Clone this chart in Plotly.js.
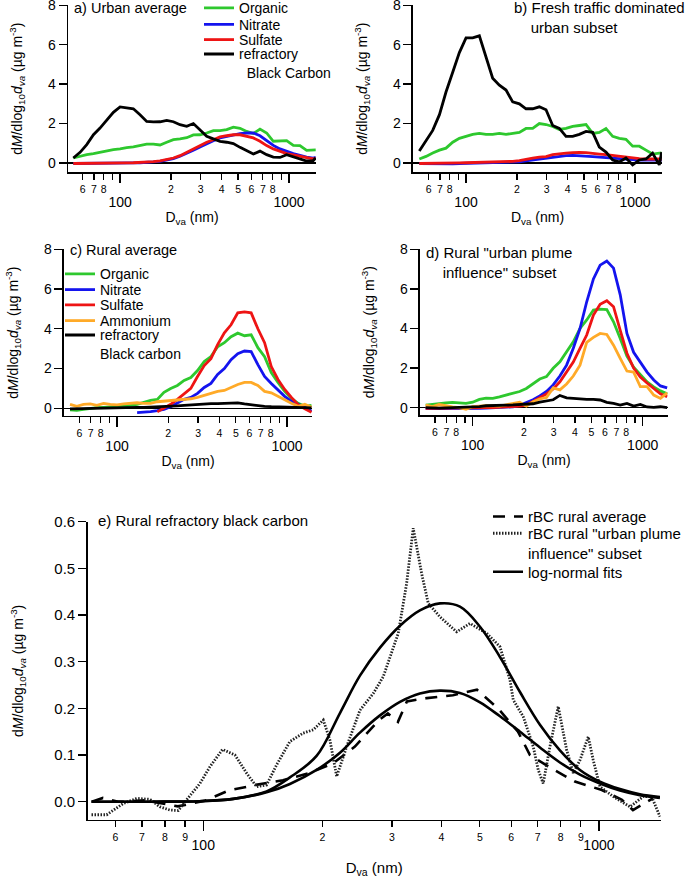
<!DOCTYPE html>
<html><head><meta charset="utf-8">
<script src="https://cdn.plot.ly/plotly-3.0.1.min.js"></script>
<style>html,body{margin:0;padding:0;background:#fff;}#chart{width:685px;height:878px;}</style>
</head><body><div id="chart"></div>
<script>
// ---------- data ----------
// vacuum aerodynamic diameter grid (nm) used for panels a-d
const dva = [52.9, 58.0, 63.5, 69.6, 76.1, 83.4, 91.3, 100, 109.5, 119.9, 131.3, 143.8, 157.5, 172.5, 188.9, 206.9, 226.5, 248.1, 271.7, 297.5, 325.8, 356.8, 390.7, 427.9, 468.6, 513.2, 562.0, 615.2, 673.7, 737.8, 807.9, 884.6, 968.8, 1061, 1162, 1272, 1393, 1440];

// a) Urban average
const a_organic = [0.25,0.34,0.42,0.47,0.54,0.64,0.68,0.71,0.78,0.81,0.88,0.95,0.95,0.91,1.05,1.18,1.22,1.28,1.42,1.43,1.52,1.64,1.64,1.69,1.82,1.76,1.60,1.49,1.72,1.52,1.10,1.10,1.13,0.89,0.88,0.64,0.64,0.66];
const a_nitrate = [-0.03,-0.03,-0.03,-0.02,-0.02,-0.01,-0.01,0,0,0,0.01,0.02,0.05,0.08,0.14,0.22,0.34,0.47,0.64,0.81,0.98,1.13,1.27,1.35,1.43,1.49,1.52,1.52,1.38,1.15,0.89,0.71,0.59,0.47,0.39,0.30,0.25,0.28];
const a_sulfate = [-0.03,-0.03,-0.03,-0.02,-0.02,-0.01,-0.01,0,0,0.01,0.02,0.03,0.07,0.10,0.17,0.25,0.37,0.54,0.71,0.89,1.05,1.18,1.32,1.38,1.43,1.43,1.35,1.27,1.10,0.88,0.71,0.59,0.47,0.41,0.34,0.30,0.20,0.25];
const a_rbc = [0.25,0.54,0.93,1.43,1.77,2.19,2.57,2.84,2.78,2.75,2.45,2.11,2.08,2.09,2.16,2.09,1.94,1.86,2.00,1.69,1.35,1.22,1.10,1.05,0.98,0.79,0.60,0.45,0.60,0.42,0.30,0.28,0.42,0.30,0.18,0.10,0.12,0.25];

// b) Fresh traffic dominated urban subset
const b_organic = [0.20,0.33,0.50,0.65,0.75,1.05,1.25,1.35,1.45,1.50,1.45,1.45,1.50,1.45,1.50,1.55,1.75,1.75,2.00,1.95,1.85,1.70,1.75,1.85,1.90,1.95,1.50,1.55,1.75,1.35,1.25,1.20,0.85,0.85,0.65,0.45,0.50,0.50];
const b_nitrate = [-0.03,-0.04,-0.05,-0.06,-0.06,-0.05,-0.03,-0.02,-0.01,0,0,0.01,0.02,0.02,0.04,0.06,0.10,0.15,0.20,0.24,0.30,0.34,0.37,0.38,0.37,0.35,0.32,0.30,0.27,0.24,0.20,0.17,0.15,0.14,0.14,0.13,0.14,0.14];
const b_sulfate = [-0.03,-0.03,-0.02,-0.02,-0.01,0,0,0.01,0.02,0.03,0.03,0.04,0.05,0.06,0.08,0.12,0.20,0.25,0.30,0.32,0.42,0.47,0.50,0.52,0.54,0.52,0.47,0.45,0.42,0.38,0.33,0.28,0.24,0.22,0.20,0.20,0.20,0.20];
const b_rbc = [0.60,1.10,1.65,2.45,3.60,4.60,5.60,6.35,6.35,6.45,5.40,4.30,3.95,3.70,3.10,3.00,2.75,2.75,2.85,2.70,1.90,1.75,1.35,1.35,1.45,1.60,1.55,0.80,0.55,0.15,0.05,0.25,-0.10,0.15,0.20,0.50,-0.10,0.55];

// c) Rural average
const c_organic = [-0.08,-0.10,-0.05,0,0.03,0.05,0.07,0.10,0.13,0.15,0.20,0.30,0.40,0.45,0.80,1.00,1.15,1.40,1.55,1.90,2.35,2.60,3.10,3.30,3.60,3.78,3.65,3.70,3.05,2.60,1.80,1.30,0.85,0.50,0.25,0.10,0.15,null];
const c_nitrate = [null,null,null,null,null,null,null,null,null,null,-0.22,-0.20,-0.17,-0.12,-0.05,0.08,0.25,0.45,0.55,0.75,1.05,1.25,1.70,2.00,2.45,2.75,2.88,2.85,2.20,1.60,1.25,0.95,0.60,0.35,0.20,0.05,-0.15,null];
const c_sulfate = [null,null,null,null,null,null,null,null,null,null,null,null,null,-0.18,0.00,0.20,0.45,0.75,1.00,1.60,2.15,2.50,3.20,3.80,4.20,4.80,4.85,4.80,4.00,3.30,2.10,1.45,0.95,0.55,0.18,-0.02,-0.20,null];
const c_ammonium = [0.20,0.10,0.20,0.22,0.15,0.25,0.20,0.17,0.22,0.25,0.28,0.25,0.25,0.33,0.36,0.40,0.42,0.44,0.48,0.55,0.65,0.75,0.85,0.90,1.05,1.20,1.30,1.30,1.15,0.85,0.78,0.60,0.40,0.25,0.10,0.20,0.05,null];
const c_rbc = [-0.03,-0.02,0,0.01,0.02,0.03,0.03,0.04,0.04,0.05,0.05,0.05,0.06,0.07,0.08,0.10,0.12,0.15,0.18,0.20,0.22,0.24,0.24,0.25,0.27,0.27,0.22,0.17,0.12,0.10,0.08,0.07,0.06,0.05,0.04,0.03,0.02,null];

// d) Rural "urban plume influence" subset
const d_organic = [0.13,0.18,0.22,0.25,0.27,0.25,0.22,0.28,0.42,0.48,0.47,0.55,0.63,0.72,0.82,0.97,1.20,1.45,1.57,1.99,2.32,2.83,3.33,4.00,4.43,4.93,4.98,4.95,4.34,3.50,2.60,2.05,1.65,1.30,1.05,0.85,0.70,null];
const d_nitrate = [-0.05,-0.05,-0.06,-0.06,-0.06,-0.05,-0.05,-0.04,-0.03,-0.02,-0.01,0,0.02,0.05,0.12,0.25,0.40,0.60,0.82,1.15,1.60,2.15,3.00,4.00,5.35,6.50,7.20,7.40,7.05,5.70,3.75,2.80,2.30,1.80,1.40,1.10,1.00,null];
const d_sulfate = [-0.03,-0.03,-0.03,-0.02,-0.02,-0.02,-0.01,-0.01,0,0,0.01,0.02,0.03,0.05,0.08,0.13,0.30,0.50,0.70,0.95,1.31,1.80,2.30,3.00,3.67,4.68,5.22,5.40,5.10,3.90,2.75,2.00,1.55,1.25,0.95,0.70,0.55,null];
const d_ammonium = [0.13,0.06,0.16,0.08,0.04,0.00,-0.08,0.05,0.08,0.10,0.09,0.08,0.15,0.22,0.28,0.08,0.30,0.44,0.52,1.00,0.90,1.20,1.60,2.15,3.30,3.55,3.75,3.70,3.16,2.49,1.85,1.80,1.06,1.06,0.64,0.47,0.75,null];
const d_rbc = [0,-0.02,-0.02,-0.01,0,0.02,0.03,0.05,0.06,0.10,0.10,0.12,0.13,0.14,0.16,0.18,0.20,0.28,0.33,0.40,0.62,0.50,0.47,0.44,0.42,0.42,0.39,0.27,0.22,0.13,0.22,0.08,0.17,0.04,0.02,0.05,0.00,null];

// e) Rural refractory black carbon
const e_avg_dva = [52.3,55.8,60.9,63.4,71.2,80.0,86.3,101,116.1,135.9,159,185,212.8,241.7,278,292.9,310.5,327.2,367.5,427.6,491.7,555.6,624.3,669.3,756.3,869.6,1017,1143,1219,1369];
const e_avg = [0,0.008,0,0,0.003,-0.005,-0.01,0.002,0.024,0.036,0.046,0.061,0.082,0.118,0.175,0.189,0.171,0.215,0.222,0.228,0.240,0.200,0.150,0.100,0.072,0.043,0.025,0.004,-0.018,0.007];
const e_plume_dva = [52.2,57.0,62.8,67.9,73.3,77.7,82.4,86.5,90.8,98.1,104,111.9,120.3,128.7,136.5,144.6,153.3,165.6,178.9,189.7,201.1,209,217.4,221.6,230.4,248.9,269,285.1,311.1,326.6,339.4,356.4,370.4,396.5,437,472.1,520.3,562.2,595.9,607.4,643.8,682.3,702.4,723.1,751.9,789,828.6,861.1,895.4,939.7,967.4,1006,1087,1198,1294,1359,1426];
const e_plume = [-0.028,-0.028,-0.004,0.007,0.005,-0.011,-0.018,-0.019,0.004,0.039,0.075,0.112,0.100,0.061,0.032,0.036,0.079,0.129,0.147,0.154,0.175,0.132,0.054,0.075,0.118,0.196,0.232,0.268,0.361,0.468,0.586,0.489,0.425,0.396,0.364,0.382,0.361,0.332,0.261,0.218,0.182,0.118,0.068,0.039,0.118,0.204,0.111,0.061,0.089,0.139,0.089,0.032,0.011,-0.011,0.011,0.011,-0.032];
const e_fit_dva = [52.2,73.3,98.1,119.1,144.6,165.6,193.4,221.6,248.9,279.7,314.2,352.8,396.5,445.4,500.5,562.2,631.6,709.4,796.9,895.4,1006,1130,1269,1426];
const e_fit_plume = [0,0,0.001,0.006,0.022,0.052,0.098,0.19,0.27,0.33,0.377,0.41,0.425,0.418,0.375,0.31,0.235,0.165,0.11,0.068,0.043,0.027,0.016,0.01];
const e_fit_avg = [0,0,0.001,0.006,0.02,0.038,0.068,0.105,0.148,0.185,0.214,0.232,0.238,0.233,0.213,0.183,0.150,0.116,0.084,0.058,0.039,0.024,0.014,0.008];

// tick labels and names
const labelledVals = [60,70,80,200,300,400,500,600,700,800];
const labelledText = ['6','7','8','2','3','4','5','6','7','8'];
const unlabelledVals = [90,900];
const labelledValsE = [60,70,80,90,200,300,400,500,600,700,800,900];
const labelledTextE = ['6','7','8','9','2','3','4','5','6','7','8','9'];
const majorVals = [100,1000];
const majorText = ['100','1000'];
const speciesNames = ['Organic','Nitrate','Sulfate','Ammonium'];
const rbcNameA = 'refractory<br>\u00a0 Black Carbon';
const rbcNameC = 'refractory<br>Black carbon';
const eNames = ['rBC rural average','rBC rural "urban plume<br>influence" subset','log-normal fits'];
const yTitle = 'd<i>M</i>/dlog<sub>10</sub><i>d</i><sub><i>va</i></sub> (µg m<sup>-3</sup>)';
const xTitle = 'D<sub>va</sub> (nm)';

// ---------- styling ----------
const FONT = '"Liberation Sans", Arial, Helvetica, sans-serif';
const K = '#000000';
const GREEN = '#2ec82e', BLUE = '#1414ee', RED = '#ee1414', ORANGE = '#ffaa28';
const LW = 2.8;

function line(x, y, color, name, xa, ya, legend, show, extra) {
  const t = {type:'scatter', mode:'lines', x:x, y:y, name:name, xaxis:xa, yaxis:ya,
    line:Object.assign({color:color, width:LW}, extra||{}), showlegend:show, connectgaps:false, hoverinfo:'skip'};
  if (legend) t.legend = legend;
  return t;
}
// empty helper traces so that the overlaid "decade" axes get drawn
function axisHolder(xa, ya) {
  return {type:'scatter', mode:'lines', x:[], y:[], xaxis:xa, yaxis:ya, showlegend:false, hoverinfo:'skip'};
}

const traces = [
  line(dva, a_organic, GREEN, speciesNames[0], 'x', 'y', 'legend', true),
  line(dva, a_nitrate, BLUE, speciesNames[1], 'x', 'y', 'legend2', true),
  line(dva, a_sulfate, RED, speciesNames[2], 'x', 'y', 'legend3', true),
  line(dva, a_rbc, K, rbcNameA, 'x', 'y', 'legend4', true),

  line(dva, b_organic, GREEN, speciesNames[0], 'x2', 'y2', null, false),
  line(dva, b_nitrate, BLUE, speciesNames[1], 'x2', 'y2', null, false),
  line(dva, b_sulfate, RED, speciesNames[2], 'x2', 'y2', null, false),
  line(dva, b_rbc, K, 'rBC', 'x2', 'y2', null, false),

  line(dva, c_organic, GREEN, speciesNames[0], 'x3', 'y3', 'legend5', true),
  line(dva, c_nitrate, BLUE, speciesNames[1], 'x3', 'y3', 'legend6', true),
  line(dva, c_sulfate, RED, speciesNames[2], 'x3', 'y3', 'legend7', true),
  line(dva, c_ammonium, ORANGE, speciesNames[3], 'x3', 'y3', 'legend8', true),
  line(dva, c_rbc, K, rbcNameC, 'x3', 'y3', 'legend9', true),

  line(dva, d_organic, GREEN, speciesNames[0], 'x4', 'y4', null, false),
  line(dva, d_nitrate, BLUE, speciesNames[1], 'x4', 'y4', null, false),
  line(dva, d_sulfate, RED, speciesNames[2], 'x4', 'y4', null, false),
  line(dva, d_ammonium, ORANGE, speciesNames[3], 'x4', 'y4', null, false),
  line(dva, d_rbc, K, 'rBC', 'x4', 'y4', null, false),

  line(e_avg_dva, e_avg, K, eNames[0], 'x5', 'y5', 'legend10', true, {width:2.6, dash:'12px,9px'}),
  line(e_plume_dva, e_plume, '#222222', eNames[1], 'x5', 'y5', 'legend11', true, {width:2.8, dash:'1.5px,1.5px'}),
  line(e_fit_dva, e_fit_plume, K, eNames[2], 'x5', 'y5', 'legend12', true, {width:2.6, shape:'spline', smoothing:1}),
  line(e_fit_dva, e_fit_avg, K, eNames[2], 'x5', 'y5', 'legend12', false, {width:2.6, shape:'spline', smoothing:1}),

  axisHolder('x6','y'), axisHolder('x7','y2'), axisHolder('x8','y3'), axisHolder('x9','y4'), axisHolder('x10','y5')
];

const tf = (s) => ({family:FONT, size:s, color:K});

function minorX(domain, range, anchor, vals, text, unl) {
  const ax = {domain:domain, range:range, type:'log', anchor:anchor, showline:true, linecolor:K, linewidth:1.5,
    ticks:'outside', ticklen:6, tickwidth:1.3, tickcolor:K, tickmode:'array', tickvals:vals, ticktext:text,
    tickfont:tf(10.5), ticklabelstandoff:1, showgrid:false, zeroline:false, fixedrange:true, automargin:false,
    ticklabeloverflow:'allow'};
  if (unl) ax.minor = {tickmode:'array', tickvals:unl, ticks:'outside', ticklen:6, tickwidth:1.3, tickcolor:K, showgrid:false};
  return ax;
}
function majorX(over, range, anchor, lblStandoff, titleStandoff, fs) {
  return {overlaying:over, range:range, type:'log', anchor:anchor, showline:false,
    ticks:'outside', ticklen:10, tickwidth:1.3, tickcolor:K, tickmode:'array', tickvals:majorVals, ticktext:majorText,
    tickfont:tf(14), ticklabelstandoff:lblStandoff, showgrid:false, zeroline:false, fixedrange:true, automargin:false,
    ticklabeloverflow:'allow', title:{text:xTitle, font:tf(fs), standoff:titleStandoff}};
}
function yAx(domain, range, anchor, vals, fmt, standoff, zl, fs) {
  return {domain:domain, range:range, anchor:anchor, showline:true, linecolor:K, linewidth:1.5,
    ticks:'outside', ticklen:8, tickwidth:1.3, tickcolor:K, tickmode:'array', tickvals:vals, tickformat:fmt,
    tickfont:tf(fs), showgrid:false, zeroline:zl, zerolinecolor:K, zerolinewidth:1.5, fixedrange:true, automargin:false,
    ticklabeloverflow:'allow', title:{text:yTitle, font:tf(14), standoff:standoff}};
}
function leg(xpx, topPx, fs) {
  return {x:xpx/685, y:1-topPx/878, xanchor:'left', yanchor:'top', font:tf(fs), bgcolor:'rgba(0,0,0,0)',
    valign:'top', itemwidth:30, traceorder:'normal'};
}
function note(text, xpx, ypx, anchor, fs) {
  return {text:text, x:xpx/685, y:1-ypx/878, xref:'paper', yref:'paper', xanchor:'left', yanchor:anchor,
    showarrow:false, font:tf(fs), align:'left'};
}

const yv = [0,2,4,6,8];
const yvE = [0,0.1,0.2,0.3,0.4,0.5,0.6];

const layout = {
  width:685, height:878, autosize:false,
  margin:{l:0, r:0, t:0, b:0, autoexpand:false},
  paper_bgcolor:'#ffffff', plot_bgcolor:'rgba(0,0,0,0)',
  font:tf(14),
  xaxis:  minorX([0.0993,0.4613], [1.692,3.160], 'y', labelledVals, labelledText, unlabelledVals),
  xaxis2: minorX([0.6029,0.9664], [1.686,3.160], 'y2', labelledVals, labelledText, unlabelledVals),
  xaxis3: minorX([0.0934,0.4555], [1.688,3.147], 'y3', labelledVals, labelledText, unlabelledVals),
  xaxis4: minorX([0.6131,0.9752], [1.690,3.149], 'y4', labelledVals, labelledText, unlabelledVals),
  xaxis5: minorX([0.1280,0.9645], [1.708,3.156], 'y5', labelledValsE, labelledTextE, null),
  xaxis6:  majorX('x',  [1.692,3.160], 'y', 7, 3, 14),
  xaxis7:  majorX('x2', [1.686,3.160], 'y2', 7, 3, 14),
  xaxis8:  majorX('x3', [1.688,3.147], 'y3', 7, 3, 14),
  xaxis9:  majorX('x4', [1.690,3.149], 'y4', 7, 3, 14),
  xaxis10: majorX('x5', [1.708,3.156], 'y5', 2, 14, 15),
  yaxis:  yAx([0.8041,0.99396], [-0.46,8], 'x', yv, '', 22, true, 14),
  yaxis2: yAx([0.8041,0.99396], [-0.46,8], 'x2', yv, '', 22, true, 14),
  yaxis3: yAx([0.5262,0.7161], [-0.387,8], 'x3', yv, '', 22, true, 14),
  yaxis4: yAx([0.5273,0.7161], [-0.369,8], 'x4', yv, '', 22, true, 14),
  yaxis5: yAx([0.0661,0.4058], [-0.0392,0.6], 'x5', yvE, '.1f', 27, false, 15),
  legend:   leg(199, -7.7, 14),
  legend2:  leg(199, 8.7, 14),
  legend3:  leg(199, 24, 14),
  legend4:  leg(199, 38.4, 14),
  legend5:  leg(60, 258.3, 14),
  legend6:  leg(60, 274, 14),
  legend7:  leg(60, 289.3, 14),
  legend8:  leg(60, 305, 14),
  legend9:  leg(60, 319.4, 14),
  legend10: leg(488, 500.3, 15),
  legend11: leg(488, 517, 15),
  legend12: leg(488, 555.5, 15),
  annotations:[
    note('a) Urban average', 72, 8.5, 'middle', 14.5),
    note('b) Fresh traffic dominated<br>\u00a0\u00a0\u00a0\u00a0urban subset', 512, -2.5, 'top', 15),
    note('c) Rural average', 68, 249.5, 'middle', 14.5),
    note('d) Rural "urban plume<br>\u00a0\u00a0\u00a0\u00a0influence" subset', 424, 242, 'top', 15),
    note('e) Rural refractory black carbon', 96, 520, 'middle', 15)
  ]
};

Plotly.newPlot('chart', traces, layout, {staticPlot:true, displayModeBar:false});
</script></body></html>
